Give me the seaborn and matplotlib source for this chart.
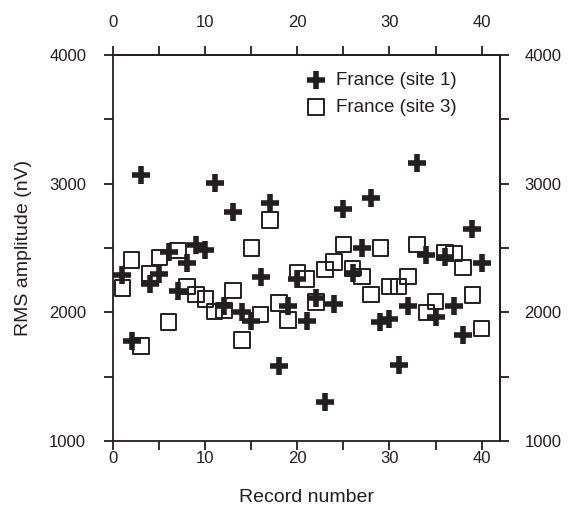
import numpy as np
import pandas as pd
import matplotlib
matplotlib.use("Agg")
import matplotlib.pyplot as plt
from matplotlib.ticker import FixedLocator
import seaborn as sns

# Record numbers and RMS amplitudes (nV) for the two French sites
records = list(range(1, 41))
site1_rms = [2290, 1780, 3067, 2222, 2295, 2470, 2163, 2382, 2523, 2484,
             3004, 2047, 2778, 2000, 1932, 2276, 2852, 1585, 2050, 2260,
             1930, 2110, 1303, 2063, 2802, 2304, 2499, 2885, 1922, 1950,
             1592, 2049, 3159, 2442, 1960, 2429, 2046, 1824, 2646, 2386]
site3_rms = [2191, 2406, 1738, 2303, 2428, 1925, 2479, 2199, 2140, 2105,
             2005, 2015, 2170, 1785, 2498, 1982, 2717, 2072, 1940, 2310,
             2258, 2080, 2334, 2393, 2529, 2342, 2277, 2140, 2502, 2199,
             2199, 2277, 2529, 1997, 2083, 2464, 2459, 2350, 2135, 1876]
series_labels = ["France (site 1)", "France (site 3)"]

# Tick positions
x_major = [0, 10, 20, 30, 40]
x_minor = [5, 15, 25, 35]
y_major = [1000, 2000, 3000, 4000]
y_minor = [1500, 2500, 3500]

df1 = pd.DataFrame({"record": records, "rms": site1_rms})
df3 = pd.DataFrame({"record": records, "rms": site3_rms})

sns.set_style("ticks")
plt.rcParams["font.family"] = ["Liberation Sans", "DejaVu Sans"]

ink = "#231f20"
tick_fs = 12
fig = plt.figure(figsize=(5.69, 5.08), dpi=100)
ax = fig.add_axes([0.1991, 0.1319, 0.6796, 0.7598])

sns.scatterplot(data=df3, x="record", y="rms", ax=ax, marker="s", s=125,
                facecolor="none", edgecolor=ink, linewidth=1.4,
                label=series_labels[1], zorder=2)
sns.scatterplot(data=df1, x="record", y="rms", ax=ax, marker="+", s=150,
                color=ink, linewidth=4.0, label=series_labels[0], zorder=3)

ax.set_xlim(0, 42)
ax.set_ylim(1000, 4000)


def style_axis(axis_obj, major, minor):
    axis_obj.set_major_locator(FixedLocator(major))
    axis_obj.set_minor_locator(FixedLocator(minor))


style_axis(ax.xaxis, x_major, x_minor)
style_axis(ax.yaxis, y_major, y_minor)

for which in ("major", "minor"):
    ax.tick_params(axis="both", which=which, direction="out", length=6.5,
                   width=1.3, color=ink, top=False, right=False)
ax.tick_params(axis="x", which="major", labelsize=tick_fs, labelcolor=ink, pad=1)
ax.tick_params(axis="y", which="major", labelsize=tick_fs, labelcolor=ink, pad=13)

# Mirrored scales on the top and right edges
top = ax.secondary_xaxis("top")
right = ax.secondary_yaxis("right")
style_axis(top.xaxis, x_major, x_minor)
style_axis(right.yaxis, y_major, y_minor)
for sec, axname, pad in ((top, "x", 11.5), (right, "y", 11)):
    for which in ("major", "minor"):
        sec.tick_params(axis=axname, which=which, direction="out", length=6.5,
                        width=1.3, color=ink)
    sec.tick_params(axis=axname, which="major", labelsize=tick_fs,
                    labelcolor=ink, pad=pad)
    for sp in sec.spines.values():
        sp.set_linewidth(1.3)
        sp.set_color(ink)
    # the mirrored scales carry tick labels only
    for t in (sec.title, sec._left_title, sec._right_title,
              sec.xaxis.label, sec.yaxis.label,
              sec.xaxis.offsetText, sec.yaxis.offsetText):
        t.set_visible(False)
ax.xaxis.offsetText.set_visible(False)
ax.yaxis.offsetText.set_visible(False)

for sp in ax.spines.values():
    sp.set_visible(True)
    sp.set_linewidth(1.3)
    sp.set_color(ink)

ax.set_xlabel("Record number", fontsize=14, color=ink, labelpad=16)
ax.set_ylabel("RMS amplitude (nV)", fontsize=14, color=ink, labelpad=12)

handles, labels = ax.get_legend_handles_labels()
order = [labels.index(series_labels[0]), labels.index(series_labels[1])]
ax.legend([handles[i] for i in order], [labels[i] for i in order],
          loc="upper left", bbox_to_anchor=(0.48, 0.975), frameon=False,
          fontsize=13.5, handlelength=1.0, handletextpad=0.6,
          labelspacing=0.5, borderaxespad=0, labelcolor=ink)

fig.savefig("out.png", dpi=100)
